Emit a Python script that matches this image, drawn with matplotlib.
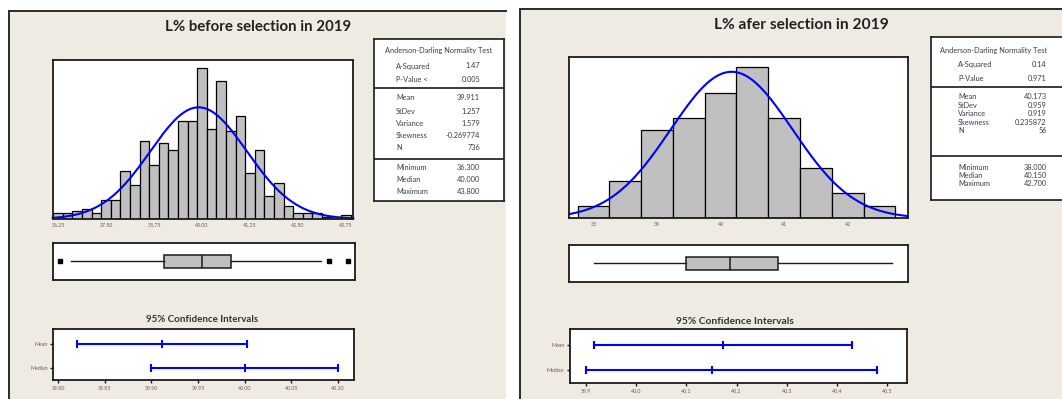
import numpy as np
import matplotlib
matplotlib.use("Agg")
import matplotlib.pyplot as plt
from matplotlib.patches import Rectangle

# --- data read off the two Minitab graphical summaries ---
# before selection
before_centers = np.arange(36.25, 43.76, 0.25)
before_counts = [3, 3, 4, 5, 3, 10, 10, 25, 18, 41, 28, 40, 36, 51, 51, 79,
                 47, 72, 46, 54, 24, 36, 12, 19, 7, 3, 3, 3, 1, 0, 2]
before_ticks = [36.25, 37.50, 38.75, 40.00, 41.25, 42.50, 43.75]
before_box = dict(whislo=36.6, q1=39.0, med=40.0, q3=40.75, whishi=43.1,
                  fliers=[36.3, 43.3, 43.8])
before_ci_ticks = [39.80, 39.85, 39.90, 39.95, 40.00, 40.05, 40.10]
before_mean_ci = (39.820, 39.911, 40.002)
before_median_ci = (39.900, 40.000, 40.100)
before_stats = [("A-Squared", "1.47"), ("P-Value <", "0.005"),
                ("Mean", "39.911"), ("StDev", "1.257"), ("Variance", "1.579"),
                ("Skewness", "-0.269774"), ("N", "736"),
                ("Minimum", "36.300"), ("Median", "40.000"), ("Maximum", "43.800")]
before_mean, before_sd, before_n = 39.911, 1.257, 736

# after selection
after_centers = np.arange(38.0, 42.51, 0.5)
after_counts = [1, 3, 7, 8, 10, 12, 8, 4, 2, 1]
after_ticks = [38, 39, 40, 41, 42]
after_box = dict(whislo=38.0, q1=39.45, med=40.15, q3=40.9, whishi=42.7, fliers=[])
after_ci_ticks = [39.9, 40.0, 40.1, 40.2, 40.3, 40.4, 40.5]
after_mean_ci = (39.916, 40.173, 40.430)
after_median_ci = (39.900, 40.150, 40.480)
after_stats = [("A-Squared", "0.14"), ("P-Value", "0.971"),
               ("Mean", "40.173"), ("StDev", "0.959"), ("Variance", "0.919"),
               ("Skewness", "0.235872"), ("N", "56"),
               ("Minimum", "38.000"), ("Median", "40.150"), ("Maximum", "42.700")]
after_mean, after_sd, after_n = 40.173, 0.959, 56

# --- style ---
W, H = 1062, 399
BG = "#EFEBE2"
TICK_COL = "#6a5a6a"
TXT_COL = "#3a3a48"
FONT = ["Lato", "DejaVu Sans"]
plt.rcParams["font.family"] = FONT

fig = plt.figure(figsize=(W / 100, H / 100), dpi=100)
fig.patch.set_facecolor("white")


def px(x0, y0, x1, y1):
    """pixel box (top-left origin) -> figure fraction rect"""
    return [x0 / W, 1 - y1 / H, (x1 - x0) / W, (y1 - y0) / H]


def frame(ax, lw=1.3):
    for s in ax.spines.values():
        s.set_linewidth(lw)
        s.set_color("#1a1a1a")


def panel(x0, y0, x1):
    fig.add_artist(Rectangle((x0 / W, 0), (x1 - x0) / W, 1 - y0 / H,
                             transform=fig.transFigure, facecolor=BG,
                             edgecolor="none", zorder=0))
    fig.add_artist(plt.Line2D([x0 / W, x0 / W], [0, 1 - y0 / H], color="#2a2a2a",
                              lw=1.4, transform=fig.transFigure))
    fig.add_artist(plt.Line2D([x0 / W, x1 / W], [1 - y0 / H, 1 - y0 / H],
                              color="#2a2a2a", lw=1.4, transform=fig.transFigure))


def summary(title, title_x, title_y, title_fs, hist_px, box_px, ci_px, stats_px,
            centers, counts, bw, ticks, tick_fmt, xlim_hist, xlim_box, ylim,
            mean, sd, n, box, ci_ticks, ci_fmt, ci_xlim, mean_ci, median_ci,
            stats, ci_title_x, ci_title_y, ci_title_fs, lab_x, val_x, rows_y,
            head, divs):
    fig.text(title_x / W, 1 - title_y / H, title, ha="center", va="center",
             fontsize=title_fs, fontweight="bold", color="#222222")

    # histogram + fitted normal curve
    ax = fig.add_axes(px(*hist_px))
    ax.bar(centers, counts, width=bw, color="#C0C0C0", edgecolor="black",
           linewidth=0.9)
    xs = np.linspace(xlim_hist[0], xlim_hist[1], 300)
    pdf = n * bw / (sd * np.sqrt(2 * np.pi)) * np.exp(-0.5 * ((xs - mean) / sd) ** 2)
    ax.plot(xs, pdf, color="#0000FF", lw=1.5, clip_on=False)
    ax.set_xlim(*xlim_hist)
    ax.set_ylim(0, ylim)
    ax.set_yticks([])
    ax.set_xticks(ticks)
    ax.set_xticklabels([tick_fmt.format(t) for t in ticks])
    ax.tick_params(axis="x", length=0, pad=3, labelsize=3.8, labelcolor=TICK_COL)
    frame(ax)

    # boxplot
    bx = fig.add_axes(px(*box_px))
    bx.bxp([box], vert=False, widths=0.36, patch_artist=True, showcaps=False,
           boxprops=dict(facecolor="#C0C0C0", edgecolor="#1a1a1a", linewidth=1.1),
           medianprops=dict(color="#1a1a1a", linewidth=1.1),
           whiskerprops=dict(color="#1a1a1a", linewidth=1.0),
           flierprops=dict(marker="s", markersize=3, markerfacecolor="black",
                           markeredgecolor="black"))
    bx.set_xlim(*xlim_box)
    bx.set_ylim(0.5, 1.5)
    bx.set_xticks([])
    bx.set_yticks([])
    frame(bx)

    # confidence intervals
    fig.text(ci_title_x / W, 1 - ci_title_y / H, "95% Confidence Intervals",
             ha="center", va="center", fontsize=ci_title_fs, fontweight="bold",
             color="#333333")
    cx = fig.add_axes(px(*ci_px))
    for yy, (lo, est, hi) in zip([1, 0], [mean_ci, median_ci]):
        cx.plot([lo, hi], [yy, yy], color="#0000FF", lw=1.5)
        cx.plot([lo, est, hi], [yy, yy, yy], ls="none", marker="|",
                markersize=6, mew=1.5, color="#0000FF")
    cx.set_xlim(*ci_xlim)
    cx.set_ylim(-0.5, 1.6)
    cx.set_yticks([1, 0])
    cx.set_yticklabels(["Mean", "Median"])
    cx.set_xticks(ci_ticks)
    cx.set_xticklabels([ci_fmt.format(t) for t in ci_ticks])
    cx.tick_params(length=2.5, width=1, pad=1.5, labelsize=3.8,
                   labelcolor=TICK_COL, color="#1a1a1a")
    frame(cx)

    # stats table
    sx = fig.add_axes(px(*stats_px))
    sx.set_xlim(stats_px[0], stats_px[2])
    sx.set_ylim(stats_px[3], stats_px[1])
    sx.set_xticks([])
    sx.set_yticks([])
    frame(sx, 1.2)
    sx.text(head[0], head[1], "Anderson-Darling Normality Test", ha=head[2],
            va="center", fontsize=5.3, color=TXT_COL)
    for d in divs:
        sx.axhline(d, color="#1a1a1a", lw=1.2)
    for (lab, val), yy in zip(stats, rows_y):
        sx.text(lab_x, yy, lab, ha="left", va="center", fontsize=5.3, color=TXT_COL)
        sx.text(val_x, yy, val, ha="right", va="center", fontsize=5.3, color=TXT_COL)


panel(9, 11, 506)
panel(520, 8.7, 1070)

summary("L% before selection in 2019", 258, 27, 10.8,
        (52.7, 59.7, 353.3, 219), (52.7, 242.7, 355, 280),
        (53.3, 329.3, 354, 380), (374.3, 39.3, 504, 201),
        before_centers, before_counts, 0.25, before_ticks, "{:.2f}",
        (36.112, 43.94), (36.112, 43.984), 83.3,
        before_mean, before_sd, before_n, before_box,
        before_ci_ticks, "{:.2f}", (39.795, 40.117),
        before_mean_ci, before_median_ci, before_stats, 202, 320, 7.0,
        396, 480, [66, 79.3, 97.3, 111, 123.3, 135.7, 147.3, 167.7, 179.3, 191.7],
        (439, 50.7, "center"), [87.7, 158.7])

summary("L% afer selection in 2019", 801, 25, 11.2,
        (569.3, 57.3, 907.7, 218.3), (569.3, 245, 908.3, 281.7),
        (570, 329.3, 907.3, 383.3), (930.7, 37.3, 1075, 200),
        after_centers, after_counts, 0.5, after_ticks, "{:d}",
        (37.617, 42.946), (37.617, 42.96), 12.8,
        after_mean, after_sd, after_n, after_box,
        after_ci_ticks, "{:.1f}", (39.868, 40.54),
        after_mean_ci, after_median_ci, after_stats, 735, 321, 7.4,
        958, 1046.7, [64.3, 78.3, 96.7, 105.7, 114, 122.7, 130.7, 167.3, 175.7, 184],
        (940, 50, "left"), [87.3, 156])

fig.savefig("out.png", dpi=100, facecolor=fig.get_facecolor())
